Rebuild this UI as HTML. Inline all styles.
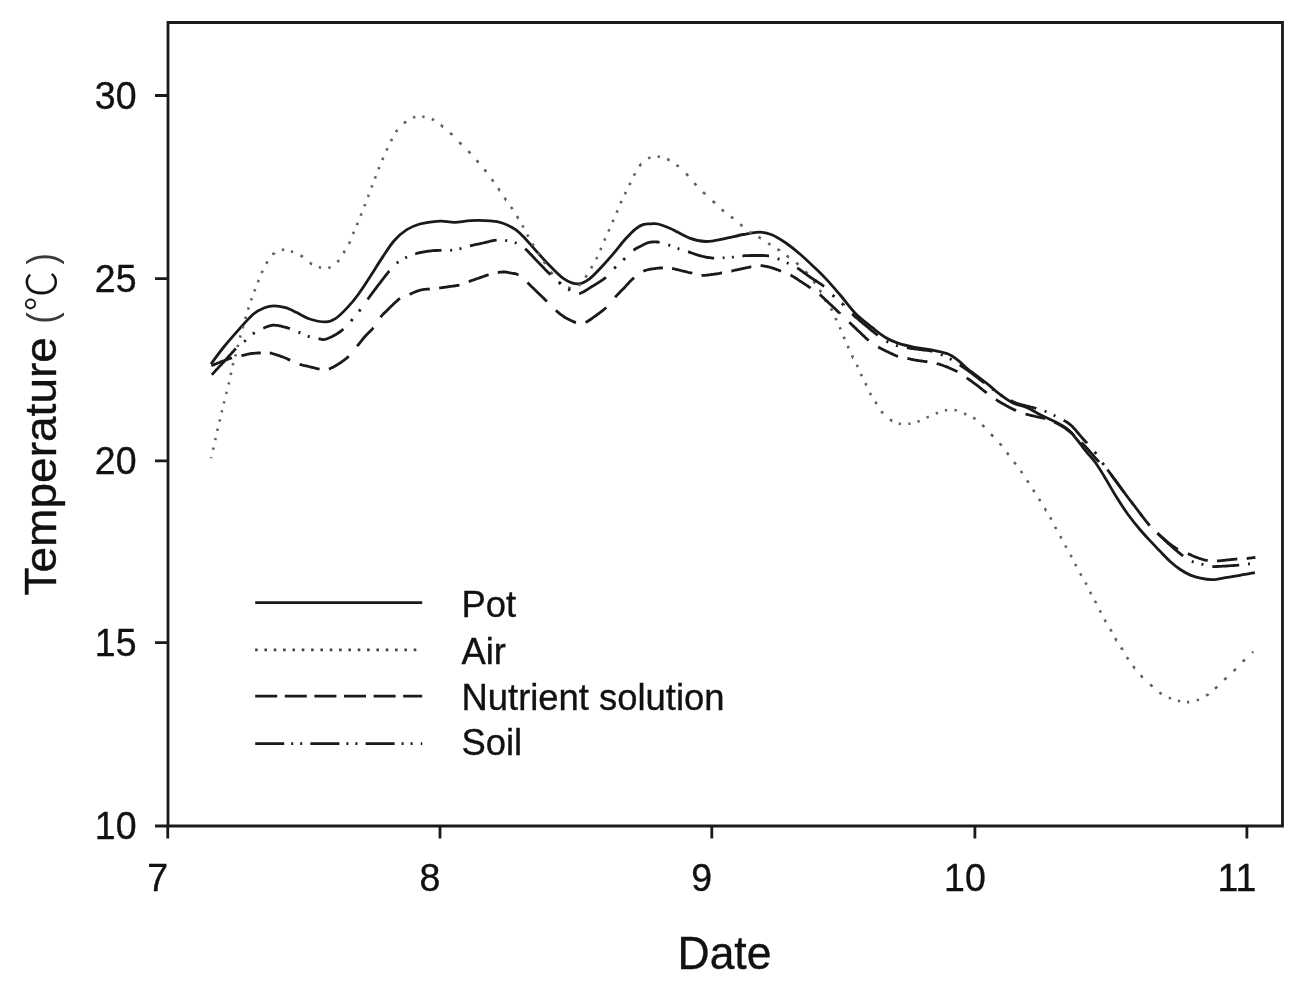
<!DOCTYPE html>
<html><head><meta charset="utf-8"><title>Temperature chart</title>
<style>
html,body{margin:0;padding:0;background:#fff;}
body{width:1312px;height:992px;overflow:hidden;}
svg{display:block;filter:blur(0.35px);}
text{font-family:"Liberation Sans", Arial, sans-serif;fill:#111;stroke:#111;stroke-width:0.35px;}
.tk{font-size:37.5px;}
.lg{font-size:36.4px;}
.ti{font-size:44.5px;}
.pj{font-family:"Liberation Sans",sans-serif;font-size:41.3px;stroke:none;fill:#3a3a3a;}
.cj{font-family:"Liberation Sans","Noto Sans CJK SC",sans-serif;font-weight:300;font-size:40.5px;stroke-width:0.2px;}
</style></head>
<body>
<svg width="1312" height="992" viewBox="0 0 1312 992">
<rect width="1312" height="992" fill="#fff"/>
<path d="M168,826 L168,22.5 L1282.5,22.5 L1282.5,826 Z" fill="none" stroke="#1a1a1a" stroke-width="2.8" stroke-linejoin="miter"/>
<path d="M167.75,826V838.5M440,826V838.5M711.8,826V838.5M974.9,826V838.5M1246.9,826V838.5M155,826H168M155,642.7H168M155,460.8H168M155,278.6H168M155,95.5H168" stroke="#1a1a1a" stroke-width="2.8"/>
<text transform="translate(157.8,890.6) scale(1,1.04)" class="tk" text-anchor="middle">7</text>
<text transform="translate(430.0,890.6) scale(1,1.04)" class="tk" text-anchor="middle">8</text>
<text transform="translate(701.8,890.6) scale(1,1.04)" class="tk" text-anchor="middle">9</text>
<text transform="translate(964.9,890.6) scale(1,1.04)" class="tk" text-anchor="middle">10</text>
<text transform="translate(1236.9,890.6) scale(1,1.04)" class="tk" text-anchor="middle">11</text>
<text transform="translate(136.5,839.4) scale(1,1.04)" class="tk" text-anchor="end">10</text>
<text transform="translate(136.5,656.1) scale(1,1.04)" class="tk" text-anchor="end">15</text>
<text transform="translate(136.5,474.2) scale(1,1.04)" class="tk" text-anchor="end">20</text>
<text transform="translate(136.5,292.0) scale(1,1.04)" class="tk" text-anchor="end">25</text>
<text transform="translate(136.5,108.9) scale(1,1.04)" class="tk" text-anchor="end">30</text>
<text transform="translate(677.5,968.9) scale(1,1.02)" class="ti">Date</text>
<text transform="translate(55.8,595.5) scale(1,1.035) rotate(-90)" class="ti">Temperature</text>
<text transform="translate(56.099999999999994,323.7) scale(1,0.83) rotate(-90)" class="ti pj">(</text>
<text transform="translate(55.8,311.6) scale(1,1.0) rotate(-90)" class="ti cj">℃</text>
<text transform="translate(56.099999999999994,264.5) scale(1,0.83) rotate(-90)" class="ti pj">)</text>
<path d="M211.0,364.0 C213.2,361.1 219.3,352.5 224.2,346.5 C229.1,340.5 235.5,333.3 240.3,327.9 C245.1,322.5 249.2,317.6 253.2,314.2 C257.2,310.8 261.0,309.1 264.5,307.7 C268.0,306.3 270.7,305.8 274.2,305.8 C277.7,305.8 281.7,306.6 285.5,307.7 C289.3,308.8 292.8,310.7 296.8,312.6 C300.8,314.5 304.8,317.4 309.7,319.0 C314.6,320.6 321.8,322.0 326.1,321.9 C330.5,321.8 332.3,320.7 335.8,318.4 C339.3,316.1 343.3,311.9 347.1,307.9 C350.9,303.9 354.4,299.7 358.4,294.2 C362.4,288.7 367.3,281.0 371.3,274.8 C375.3,268.6 378.8,262.7 382.6,257.1 C386.4,251.5 389.9,245.6 393.9,241.0 C397.9,236.4 402.5,232.5 406.8,229.7 C411.1,226.9 415.5,225.3 419.7,224.0 C423.9,222.7 428.4,222.3 432.1,221.8 C435.8,221.3 438.0,221.1 441.8,221.2 C445.6,221.3 450.3,222.4 455.1,222.3 C459.9,222.2 465.0,220.8 470.8,220.6 C476.6,220.3 484.9,220.4 490.2,220.8 C495.4,221.2 498.1,221.5 502.3,223.0 C506.5,224.5 511.8,227.0 515.6,229.6 C519.4,232.2 522.1,235.4 525.3,238.7 C528.5,242.0 531.4,245.6 535.0,249.6 C538.6,253.6 542.3,258.1 547.1,262.9 C551.9,267.7 558.5,275.1 563.6,278.6 C568.8,282.1 573.6,283.9 578.0,283.9 C582.4,283.9 585.6,281.7 589.8,278.6 C593.9,275.5 599.0,269.6 602.9,265.5 C606.8,261.4 609.7,258.1 613.4,253.7 C617.1,249.3 621.5,243.5 625.2,239.3 C628.9,235.2 632.6,231.3 635.7,228.8 C638.8,226.3 641.1,225.1 643.6,224.3 C646.1,223.5 648.6,223.9 651.0,223.8 C653.4,223.8 654.8,223.2 658.0,224.0 C661.2,224.8 665.1,226.2 670.4,228.5 C675.7,230.8 683.7,235.9 689.6,238.1 C695.5,240.3 700.3,241.4 706.0,241.5 C711.7,241.6 717.7,240.0 723.9,238.8 C730.1,237.6 737.4,235.6 743.2,234.5 C749.1,233.4 754.3,232.1 759.0,232.1 C763.7,232.1 766.7,232.7 771.2,234.5 C775.7,236.3 781.1,239.7 785.9,243.0 C790.7,246.3 795.3,250.0 800.2,254.2 C805.1,258.4 811.0,264.1 815.4,268.3 C819.8,272.5 822.3,274.9 826.5,279.4 C830.7,283.9 835.7,289.8 840.6,295.5 C845.5,301.2 850.4,308.3 855.7,313.7 C861.0,319.1 867.4,323.7 872.4,327.7 C877.4,331.7 881.1,334.9 885.5,337.5 C889.9,340.1 893.8,341.8 898.6,343.4 C903.4,345.0 908.9,346.2 914.4,347.3 C919.9,348.4 925.8,348.8 931.4,349.9 C937.0,351.0 943.3,352.1 947.7,353.8 C952.1,355.5 954.6,357.8 957.8,360.2 C961.0,362.6 963.8,365.9 966.9,368.4 C970.0,370.9 972.3,372.4 976.1,375.3 C979.9,378.2 986.0,382.7 989.8,385.8 C993.6,388.9 995.2,390.9 999.1,393.7 C1003.0,396.5 1008.3,400.6 1012.9,402.9 C1017.5,405.2 1022.0,405.4 1026.6,407.4 C1031.2,409.4 1035.7,412.5 1040.3,414.8 C1044.9,417.1 1049.4,418.8 1054.0,421.2 C1058.6,423.6 1064.0,426.3 1067.8,429.4 C1071.6,432.4 1073.9,435.8 1076.9,439.5 C1080.0,443.2 1083.0,447.6 1086.1,451.4 C1089.1,455.2 1092.2,458.1 1095.2,462.3 C1098.2,466.5 1100.7,470.6 1104.2,476.3 C1107.7,482.1 1112.3,490.4 1116.3,496.8 C1120.3,503.2 1124.4,509.5 1128.4,515.0 C1132.4,520.5 1136.3,525.3 1140.3,530.0 C1144.3,534.7 1149.3,539.8 1152.6,543.4 C1155.9,547.0 1157.3,548.4 1160.2,551.4 C1163.1,554.4 1166.9,558.5 1170.2,561.5 C1173.5,564.5 1176.9,567.2 1180.3,569.5 C1183.7,571.8 1187.0,573.7 1190.4,575.1 C1193.8,576.5 1196.8,577.4 1200.5,578.1 C1204.2,578.9 1208.4,579.7 1212.6,579.6 C1216.8,579.5 1221.0,578.4 1225.7,577.6 C1230.4,576.9 1235.9,575.9 1240.8,575.1 C1245.7,574.3 1252.6,573.0 1254.9,572.6" fill="none" stroke="#1a1a1a" stroke-width="2.8" stroke-linejoin="round"/>
<path d="M211.1 458.2L211.4 457.1M213.0 449.8L213.3 448.4L213.5 447.5M215.1 440.2L215.5 438.8L215.7 438.0M217.3 430.9L217.5 429.7L217.8 428.6M219.4 421.5L219.8 420.1L220.0 419.3M221.6 412.4L221.9 411.1L222.1 410.3M223.7 403.4L224.1 402.0L224.3 401.2M226.1 393.9L226.5 392.5L226.7 391.7M228.5 384.4L228.9 383.0L229.1 382.2M230.7 374.9L231.0 373.5L231.2 372.6M232.7 365.3L233.1 364.0L233.3 363.1M235.2 356.4L235.6 355.1L235.8 354.2M237.6 347.0L237.9 345.8L238.1 344.8M240.0 337.6L240.4 336.1L240.6 335.4M242.6 328.3L243.0 327.0L243.2 326.0M245.3 318.9L245.7 317.4L245.9 316.7M248.1 309.6L248.5 308.1L248.7 307.4M251.1 300.4L251.5 299.1L251.8 298.3M254.4 291.4L254.9 290.0L255.2 289.2M257.9 282.2L258.4 280.9L258.8 280.0M261.6 273.0L262.2 271.7L262.6 270.7M266.2 263.7L266.9 262.6L267.6 261.5L267.6 261.5M272.4 254.6L273.4 253.7L274.4 253.0L274.4 252.9M281.8 249.9L283.1 249.7L284.2 249.6M290.9 251.2L292.1 251.7L293.1 252.0M300.5 255.4L301.6 256.1L302.7 256.8L302.8 256.9M309.8 262.6L310.8 263.3L311.9 264.0L312.0 264.0M318.8 267.3L320.2 267.6L321.1 267.8M328.3 267.9L329.6 267.5L330.6 267.1M337.3 262.0L338.2 261.1L339.0 260.2L339.1 260.1M343.5 253.0L344.2 251.9L344.9 250.8L344.9 250.8M348.9 243.8L349.5 242.6L350.0 241.5L350.0 241.4M353.0 234.0L353.5 232.8L354.0 231.7M356.9 225.1L357.4 223.8L357.8 222.9M360.6 215.7L361.1 214.6L361.5 213.5M364.4 206.3L364.8 205.2L365.2 204.1M367.9 196.9L368.4 195.8L368.8 194.7M371.5 187.5L371.9 186.4L372.3 185.3M374.9 178.4L375.5 177.0L375.8 176.2M378.5 169.3L379.0 167.9L379.4 167.1M382.3 159.9L382.9 158.5L383.3 157.6M386.5 150.5L387.0 149.4L387.5 148.3M391.0 141.2L391.6 139.9L392.1 139.0M395.9 132.1L396.6 131.1L397.3 130.0L397.4 129.9M403.9 123.2L405.0 122.4L406.0 121.6L406.1 121.5M413.0 117.6L414.2 117.2L415.3 116.9M422.3 116.6L423.6 116.7L424.6 116.9M431.8 119.0L433.1 119.6L434.1 120.1M440.8 125.0L441.8 125.8L442.9 126.7L443.0 126.7M450.1 132.9L451.0 133.8L452.0 134.6L452.3 135.0M459.3 142.2L460.2 143.1L461.2 144.1L461.5 144.4M468.3 151.1L469.2 152.0L470.0 153.0L470.3 153.3M476.5 160.3L477.4 161.2L478.2 162.2L478.5 162.5M484.4 169.5L485.2 170.4L485.9 171.4L486.2 171.8M491.7 179.3L492.5 180.3L493.3 181.4L493.4 181.6M498.2 188.3L498.9 189.4L499.6 190.5L499.7 190.5M504.5 197.7L505.3 198.8L506.0 199.9L506.1 199.9M510.9 206.9L511.7 208.0L512.4 209.1L512.4 209.1M516.9 216.1L517.6 217.2L518.2 218.3L518.3 218.3M522.3 225.3L522.9 226.4L523.5 227.5M527.2 234.5L527.8 235.6L528.4 236.7M532.5 243.7L533.1 244.8L533.8 245.8M538.0 252.7L538.7 253.8L539.4 254.8M543.8 261.5L544.5 262.6L545.3 263.8L545.3 263.9M550.7 271.8L551.5 272.8L552.3 273.8L552.6 274.2M558.8 281.6L559.8 282.5L560.8 283.3L560.9 283.4M568.1 287.6L569.3 287.9L570.6 288.1L570.7 288.1M578.4 285.8L579.4 284.9L580.3 283.9M585.4 277.4L586.2 276.3L586.9 275.3M591.1 268.3L591.7 267.2L592.3 266.1L592.3 266.1M596.1 259.2L596.7 258.1L597.2 257.0M600.3 250.1L600.9 248.8L601.3 247.9M604.3 240.6L604.8 239.5L605.3 238.4M608.4 231.5L609.0 230.2L609.4 229.3M612.5 222.0L613.0 220.9L613.5 219.8L613.5 219.8M616.6 212.6L617.1 211.5L617.6 210.4M620.5 203.2L621.0 202.1L621.5 201.0M624.9 194.2L625.4 193.1L625.9 192.0M629.4 185.0L629.9 183.9L630.4 182.8M633.8 175.7L634.4 174.6L635.0 173.5L635.0 173.4M639.3 166.1L640.2 165.1L641.1 164.1L641.2 164.1M648.1 158.4L649.2 157.9L650.5 157.4M657.6 156.6L658.9 156.7L659.9 156.8M667.2 159.0L668.3 159.5L669.4 160.1L669.5 160.1M676.5 164.9L677.5 165.7L678.5 166.5L678.7 166.7M686.0 173.6L687.0 174.5L687.8 175.5L688.1 175.8M694.3 183.1L695.2 184.0L696.0 185.0L696.3 185.3M703.0 192.1L703.9 193.0L704.9 193.8L705.3 194.2M712.7 201.0L713.7 202.0L714.7 202.8L715.0 203.1M721.7 209.4L722.6 210.3L723.7 211.2L723.9 211.3M731.0 216.6L731.9 217.4L733.0 218.2L733.2 218.4M740.2 224.3L741.1 225.1L742.2 226.0L742.4 226.1M749.3 231.9L750.3 232.6L751.4 233.3L751.5 233.4M758.5 237.0L759.6 237.6L760.7 238.3L760.8 238.3M768.2 243.2L769.2 243.9L770.3 244.6L770.5 244.7M777.4 249.1L778.5 249.8L779.6 250.5L779.6 250.6M786.6 255.6L787.7 256.4L788.8 257.2L788.9 257.2M796.2 262.7L797.1 263.5L798.2 264.4L798.5 264.6M805.4 271.3L806.3 272.3L807.2 273.3L807.4 273.6M813.5 281.2L814.3 282.2L815.1 283.3L815.2 283.4M819.7 289.9L820.4 291.0L821.0 292.1L821.1 292.1M824.9 299.5L825.5 300.6L826.2 301.7L826.2 301.7M830.8 308.5L831.5 309.6L832.1 310.7L832.1 310.7M835.5 318.0L836.0 319.2L836.5 320.3M839.7 327.2L840.2 328.3L840.7 329.4M843.7 336.7L844.2 337.9L844.7 339.0M847.7 346.0L848.2 347.1L848.7 348.2M852.0 355.4L852.5 356.5L853.0 357.6L853.1 357.6M856.7 364.8L857.3 365.9L857.8 367.0M860.8 374.0L861.3 375.1L861.8 376.2M865.4 383.1L865.9 384.2L866.4 385.3L866.5 385.4M869.9 392.8L870.5 394.0L871.1 395.1L871.1 395.1M875.3 401.8L876.0 402.9L876.7 404.0L876.7 404.0M881.2 411.2L882.0 412.2L882.9 413.2L883.0 413.3M889.9 419.5L891.0 420.2L892.0 420.9L892.1 420.9M898.7 423.7L900.0 423.9L900.9 424.1M908.3 423.8L909.6 423.7L910.5 423.5M917.5 421.8L918.8 421.3L919.7 421.0M926.6 417.6L927.7 417.1L928.8 416.6M935.8 413.5L936.9 413.1L938.0 412.7M944.9 410.4L946.2 410.2L947.1 410.0M954.5 410.0L955.8 410.2L956.8 410.5M964.1 413.5L965.2 414.0L966.3 414.5M973.2 417.7L974.2 418.3L975.3 419.0L975.4 419.1M982.3 424.9L983.2 425.8L984.0 426.6L984.4 427.0M991.0 434.3L992.0 435.2L992.8 436.2L993.1 436.5M999.6 443.4L1000.5 444.3L1001.4 445.4L1001.5 445.6M1006.9 452.6L1007.7 453.5L1008.5 454.6L1008.7 454.8M1014.1 462.1L1014.9 463.1L1015.7 464.2L1015.8 464.3M1020.7 470.9L1021.5 472.0L1022.3 473.1L1022.3 473.1M1027.1 480.4L1027.9 481.6L1028.6 482.7L1028.6 482.7M1033.1 489.8L1033.8 490.9L1034.5 492.0L1034.5 492.0M1039.0 498.9L1039.7 500.0L1040.4 501.1L1040.4 501.1M1044.7 508.3L1045.4 509.4L1046.0 510.5L1046.1 510.5M1050.2 517.4L1050.8 518.5L1051.4 519.6L1051.4 519.6M1055.0 526.8L1055.6 527.9L1056.2 529.0L1056.2 529.0M1060.2 536.1L1060.8 537.2L1061.4 538.3L1061.4 538.3M1065.3 545.5L1065.9 546.6L1066.5 547.7L1066.5 547.7M1070.5 554.9L1071.1 556.0L1071.7 557.1L1071.7 557.1M1075.1 564.0L1075.7 565.1L1076.3 566.2L1076.3 566.2M1080.2 573.4L1080.8 574.5L1081.4 575.6L1081.4 575.6M1085.4 582.5L1086.0 583.6L1086.6 584.7L1086.6 584.7M1090.0 591.9L1090.6 593.0L1091.2 594.1M1094.8 600.8L1095.4 601.9L1096.0 603.0L1096.0 603.1M1099.8 610.3L1100.4 611.5L1101.0 612.6L1101.0 612.6M1104.6 619.6L1105.2 620.7L1105.8 621.8L1105.9 621.9M1110.3 629.2L1111.0 630.4L1111.6 631.5M1115.2 638.2L1115.8 639.3L1116.4 640.4L1116.5 640.4M1121.1 647.5L1121.8 648.6L1122.5 649.7L1122.5 649.8M1126.8 657.2L1127.5 658.3L1128.2 659.4L1128.2 659.4M1133.1 666.1L1133.9 667.1L1134.7 668.2L1134.8 668.2M1140.7 675.3L1141.6 676.2L1142.4 677.2L1142.8 677.5M1150.2 684.4L1151.2 685.4L1152.2 686.2L1152.5 686.5M1159.4 692.5L1160.4 693.2L1161.5 693.9L1161.7 694.0M1168.8 697.6L1170.0 698.1L1171.1 698.5M1177.9 700.8L1179.2 701.1L1180.1 701.3M1187.0 702.1L1188.3 702.1L1189.3 702.0M1196.7 700.4L1198.0 699.9L1199.0 699.5M1206.1 695.7L1207.2 695.0L1208.3 694.3L1208.3 694.2M1215.0 688.7L1216.0 687.8L1216.9 687.0L1217.2 686.7M1224.3 679.9L1225.2 678.9L1226.2 678.1L1226.5 677.7M1233.7 671.1L1234.6 670.2L1235.6 669.2L1235.9 668.9M1242.7 661.7L1243.6 660.8L1244.6 659.8L1244.9 659.5M1252.2 652.9L1253.0 652.0L1253.3 651.8" fill="none" stroke="#606060" stroke-width="2.6"/>
<path d="M211.4 365.6L212.6 365.2L214.0 364.6L215.2 364.1L216.5 363.6L217.9 363.0L219.3 362.5L220.8 361.9L222.3 361.3L223.8 360.7L225.2 360.2L226.6 359.7L227.8 359.2L229.0 358.8L230.3 358.3L231.5 358.0L231.9 357.8M241.5 355.7L242.8 355.4L244.1 355.1L245.3 354.8L246.6 354.5L247.9 354.2L249.2 354.0L250.4 353.7L251.6 353.5L252.9 353.4L254.1 353.3L255.4 353.2L256.6 353.1L257.8 353.0L259.1 353.0L260.4 352.9L260.8 352.9M269.8 353.0L271.0 353.2L272.2 353.5L273.4 353.9L274.7 354.2L276.0 354.7L277.3 355.1L278.6 355.5L279.8 355.9L281.0 356.4L282.3 356.8L283.5 357.3L284.7 357.8L286.0 358.3L287.2 358.8L288.3 359.4L289.5 359.9L290.2 360.2M299.6 364.3L300.9 364.7L302.1 365.0L303.4 365.4L304.7 365.6L306.0 365.9L307.3 366.2L308.6 366.5L309.8 366.8L311.0 367.1L312.2 367.4L313.4 367.7L314.6 368.0L315.8 368.3L317.1 368.7L318.4 368.9L319.6 369.1M328.9 369.1L330.1 368.6L331.2 368.1L332.4 367.5L333.6 366.9L334.8 366.2L336.0 365.5L337.2 364.8L338.4 364.1L339.5 363.3L340.5 362.7L341.6 362.0L342.6 361.2L343.6 360.5L344.5 359.8L345.5 359.0L346.4 358.3L347.5 357.4L348.5 356.4L348.7 356.2M357.1 346.2L358.0 345.1L358.8 344.2L359.6 343.1L360.4 342.1L361.2 341.1L362.0 340.1L362.8 339.0L363.7 338.0L364.6 337.0L365.5 336.0L366.4 335.0L367.4 334.0L368.4 332.9L369.4 331.9L370.4 330.9L371.4 329.9L372.4 328.9L373.3 327.9L373.5 327.7M380.6 317.2L381.4 316.1L382.3 315.1L383.3 314.1L384.3 313.1L385.2 312.2L386.0 311.4L386.9 310.5L387.8 309.7L388.6 308.8L389.7 307.8L390.7 306.8L391.7 305.8L392.6 305.0L393.4 304.1L394.3 303.3L395.2 302.4L396.3 301.5L397.3 300.6L398.3 299.7L399.3 298.9L400.0 298.4M409.6 294.3L410.7 293.9L412.0 293.3L413.3 292.8L414.4 292.3L415.5 291.8L416.6 291.4L417.9 290.9L419.1 290.5L420.3 290.1L421.5 289.8L422.8 289.6L424.2 289.4L425.4 289.3L426.7 289.2L428.0 289.1L429.2 289.0L429.8 288.9M439.2 288.1L440.4 287.9L441.8 287.7L443.0 287.5L444.2 287.3L445.4 287.2L446.6 287.0L447.8 286.8L449.0 286.6L450.2 286.4L451.4 286.3L452.6 286.2L453.9 286.0L455.1 285.9L456.3 285.7L457.5 285.5L458.8 285.2L459.5 285.0M468.8 281.6L470.1 281.1L471.3 280.7L472.5 280.2L473.8 279.8L475.0 279.4L476.3 278.9L477.6 278.5L478.8 278.1L480.1 277.6L481.3 277.2L482.6 276.7L483.9 276.3L485.2 275.8L486.5 275.4L487.7 275.0L488.6 274.7M497.8 272.5L499.0 272.4L500.3 272.2L501.5 272.1L502.7 272.0L504.0 272.0L505.3 272.0L506.5 272.1L507.7 272.3L508.9 272.6L510.2 272.8L511.5 273.1L512.7 273.3L513.9 273.5L515.2 273.7L516.3 274.0L517.5 274.5L518.5 274.9M527.5 282.6L528.4 283.5L529.4 284.4L530.4 285.4L531.4 286.4L532.3 287.3L533.2 288.1L534.1 289.0L535.0 289.8L535.8 290.7L536.7 291.5L537.6 292.4L538.4 293.2L539.3 294.1L540.2 294.9L541.1 295.8L542.0 296.6L542.9 297.5L543.8 298.3L544.6 299.2L545.6 300.2L546.6 301.1L546.9 301.4M555.9 310.4L556.9 311.3L557.9 312.1L558.9 313.0L560.0 313.8L561.0 314.6L562.1 315.4L563.2 316.2L564.3 317.0L565.4 317.7L566.6 318.3L567.8 319.0L569.0 319.6L570.3 320.3L571.6 320.8L572.8 321.4L574.1 321.9L575.3 322.4L576.0 322.6M585.6 322.4L586.8 321.8L587.8 321.2L588.9 320.5L590.0 319.8L591.2 319.0L592.3 318.2L593.4 317.4L594.6 316.5L595.6 315.8L596.7 315.0L597.8 314.2L598.8 313.5L599.9 312.7L600.9 311.9L601.9 311.1L602.9 310.3L603.9 309.5L604.9 308.7L605.9 307.8L606.2 307.5M615.1 297.3L615.9 296.4L616.8 295.4L617.7 294.5L618.7 293.5L619.6 292.5L620.5 291.6L621.5 290.6L622.4 289.6L623.4 288.7L624.3 287.7L625.3 286.7L626.2 285.6L627.2 284.6L628.0 283.7L629.0 282.6L630.0 281.6L631.0 280.6L631.9 279.6L632.9 278.7L633.9 277.9L634.1 277.7M643.3 271.2L644.5 270.7L645.7 270.3L646.9 270.0L648.1 269.7L649.3 269.5L650.4 269.2L651.6 269.0L652.8 268.8L654.0 268.6L655.2 268.5L656.5 268.3L657.7 268.2L658.9 268.1L660.1 268.0L661.4 268.0L662.7 267.9L662.9 267.9M672.1 268.5L673.3 268.7L674.6 269.0L675.8 269.3L677.0 269.5L678.3 269.9L679.5 270.2L680.7 270.5L682.0 270.8L683.3 271.1L684.6 271.4L685.8 271.7L687.0 272.0L688.1 272.3L689.5 272.6L690.8 272.9L692.0 273.2L692.2 273.3M701.5 275.4L702.7 275.4L704.0 275.4L705.3 275.3L706.6 275.1L707.9 275.0L709.2 274.8L710.5 274.7L711.8 274.5L713.1 274.4L714.3 274.2L715.6 274.0L716.8 273.8L718.0 273.6L719.3 273.4L720.4 273.2L721.8 273.0L722.0 273.0M731.4 271.0L732.6 270.8L733.9 270.5L735.2 270.2L736.4 270.0L737.6 269.7L738.8 269.5L740.0 269.2L741.2 269.0L742.3 268.7L743.5 268.4L744.7 268.2L745.9 267.9L747.1 267.6L748.3 267.4L749.6 267.1L750.9 266.8L751.3 266.8M760.6 265.6L761.9 265.7L763.2 265.9L764.5 266.1L765.8 266.3L767.1 266.6L768.3 266.9L769.5 267.2L770.7 267.5L772.0 267.9L773.3 268.3L774.6 268.7L775.7 269.1L776.9 269.6L778.2 270.0L779.4 270.5L780.7 271.0L781.1 271.1M790.5 275.0L791.7 275.7L792.8 276.3L794.0 277.1L795.1 277.8L796.3 278.5L797.3 279.2L798.3 279.9L799.3 280.6L800.3 281.2L801.4 281.9L802.5 282.6L803.6 283.4L804.8 284.1L805.9 284.9L807.0 285.6L808.1 286.3L809.2 287.1L810.2 287.7L810.6 288.0M819.8 294.6L820.7 295.4L821.7 296.3L822.8 297.3L823.7 298.1L824.6 299.0L825.5 299.8L826.5 300.7L827.4 301.5L828.3 302.4L829.1 303.2L830.2 304.2L831.2 305.1L832.2 306.0L833.2 307.0L834.1 307.9L835.1 308.8L836.1 309.7L837.0 310.7L838.0 311.6L838.9 312.5L839.9 313.3L839.9 313.4M849.2 322.2L850.1 323.0L851.1 324.0L852.1 325.0L853.1 325.9L854.2 326.9L855.2 327.9L856.3 328.9L857.3 329.9L858.3 330.9L859.3 331.8L860.4 332.8L861.4 333.8L862.4 334.8L863.5 335.7L864.5 336.7L865.5 337.7L866.5 338.6L867.5 339.5L868.5 340.3L868.7 340.5M878.1 346.9L879.2 347.5L880.3 348.2L881.5 348.8L882.7 349.4L884.0 350.1L885.2 350.7L886.4 351.3L887.7 351.8L888.9 352.4L890.1 353.0L891.3 353.6L892.5 354.1L893.8 354.7L895.0 355.2L896.2 355.7L897.3 356.2L898.0 356.4M907.4 358.5L908.7 358.7L910.0 359.0L911.3 359.3L912.6 359.5L913.9 359.8L915.2 360.0L916.6 360.3L917.8 360.5L919.1 360.7L920.3 360.8L921.6 361.0L922.8 361.2L924.0 361.3L925.2 361.5L926.6 361.6L927.4 361.8M936.7 363.5L937.9 363.9L939.1 364.2L940.4 364.6L941.7 365.0L943.0 365.5L944.3 366.0L945.5 366.4L946.8 366.9L948.1 367.4L949.4 368.0L950.5 368.5L951.6 369.0L952.7 369.5L953.8 370.0L954.9 370.5L956.1 371.1L957.3 371.7L957.4 371.8M966.7 377.9L967.7 378.6L968.8 379.3L969.8 380.0L970.8 380.8L971.9 381.5L972.9 382.3L974.0 383.1L975.0 383.8L976.1 384.6L977.1 385.4L978.1 386.2L979.2 387.0L980.2 387.8L981.3 388.7L982.3 389.5L983.3 390.3L984.4 391.1L985.4 391.9L986.3 392.6L986.6 392.9M995.9 399.6L997.0 400.2L998.0 400.9L999.1 401.5L1000.1 402.2L1001.2 402.8L1002.3 403.4L1003.4 404.0L1004.4 404.6L1005.5 405.2L1006.7 405.9L1007.9 406.5L1009.1 407.2L1010.3 407.8L1011.5 408.4L1012.7 409.0L1013.8 409.6L1015.0 410.1L1016.1 410.6M1025.6 414.0L1026.9 414.4L1028.1 414.7L1029.4 415.0L1030.7 415.3L1031.9 415.6L1033.2 415.9L1034.5 416.1L1035.8 416.5L1037.1 416.8L1038.4 417.0L1039.6 417.3L1040.9 417.6L1042.2 417.9L1043.5 418.2L1044.9 418.6L1045.2 418.7M1054.2 422.1L1055.5 422.7L1056.6 423.2L1057.7 423.7L1058.7 424.3L1060.0 425.0L1061.2 425.7L1062.5 426.5L1063.7 427.2L1064.7 427.9L1065.7 428.6L1066.6 429.3L1067.6 430.0L1068.6 430.8L1069.6 431.6L1070.6 432.4L1071.6 433.2L1072.6 434.0L1073.1 434.4M1081.5 442.4L1082.5 443.4L1083.4 444.4L1084.4 445.4L1085.3 446.4L1086.3 447.5L1087.2 448.6L1088.2 449.6L1089.1 450.7L1090.1 451.8L1091.0 452.9L1091.9 453.9L1092.8 455.0L1093.6 456.0L1094.5 456.9L1095.3 457.9L1096.2 458.8L1097.0 459.7L1097.8 460.6L1098.7 461.5L1099.1 462.0M1107.4 469.7L1108.2 470.7L1109.2 472.0L1109.9 473.0L1110.8 474.1L1111.7 475.3L1112.6 476.6L1113.6 478.0L1114.7 479.4L1115.4 480.4L1116.1 481.4L1116.8 482.4L1117.6 483.4L1118.3 484.4L1119.1 485.4L1119.8 486.5L1120.6 487.5L1121.4 488.6L1122.1 489.6L1122.9 490.6L1123.7 491.7L1124.2 492.5M1132.1 502.9L1133.1 504.2L1133.8 505.2L1134.6 506.2L1135.4 507.2L1136.1 508.2L1136.9 509.2L1137.7 510.2L1138.4 511.2L1139.2 512.2L1139.9 513.2L1140.7 514.2L1141.8 515.6L1142.8 517.0L1143.9 518.3L1144.9 519.6L1145.8 520.8L1146.7 521.9L1147.6 523.0L1148.4 524.0L1149.1 524.8M1157.4 533.1L1158.5 534.1L1159.5 535.0L1160.5 535.9L1161.6 536.9L1162.7 537.9L1163.8 538.9L1165.0 539.8L1166.1 540.8L1167.2 541.7L1168.2 542.6L1169.2 543.4L1170.2 544.1L1171.3 545.0L1172.4 545.8L1173.4 546.5L1174.5 547.2L1175.5 547.9L1176.6 548.6L1177.7 549.2L1177.9 549.3M1187.8 553.6L1189.0 554.1L1190.3 554.6L1191.4 555.2L1192.5 555.7L1193.7 556.2L1194.9 556.7L1196.0 557.1L1197.2 557.6L1198.3 558.0L1199.5 558.4L1200.7 558.8L1201.8 559.2L1203.0 559.5L1204.2 559.9L1205.4 560.2L1206.7 560.4L1207.7 560.6M1217.0 561.0L1218.3 560.9L1219.5 560.8L1220.7 560.7L1221.9 560.6L1223.2 560.4L1224.4 560.3L1225.6 560.1L1226.8 560.0L1228.0 559.9L1229.2 559.8L1230.5 559.6L1231.7 559.5L1232.9 559.4L1234.2 559.3L1235.6 559.1L1236.9 559.0L1237.3 559.0M1246.7 558.5L1247.9 558.3L1249.1 558.2L1250.4 558.1L1251.6 557.9L1252.9 557.7L1254.2 557.6L1255.4 557.4" fill="none" stroke="#1a1a1a" stroke-width="2.8" stroke-linejoin="round"/>
<path d="M211.8 374.7L212.8 373.7L213.8 372.6L214.7 371.6L215.6 370.6L216.6 369.5L217.7 368.4L218.7 367.3L219.8 366.1L220.9 365.0L221.9 363.8L223.0 362.7L224.0 361.6L224.9 360.6L225.8 359.6L226.8 358.5L227.8 357.4L228.8 356.3L229.8 355.2L230.8 354.1L231.8 353.0L232.7 351.9L233.7 350.9L234.6 349.8L235.5 348.9L235.9 348.5M244.1 341.6L245.1 340.9L245.9 340.3M252.9 334.0L254.0 333.2L254.7 332.7M263.3 328.2L264.4 327.8L265.6 327.3L266.8 326.8L268.1 326.3L269.4 325.9L270.6 325.6L271.8 325.4L273.1 325.2L274.4 325.2L275.6 325.3L276.9 325.4L278.3 325.6L279.7 325.9L281.2 326.2L282.6 326.6L284.1 326.9L285.5 327.3L286.9 327.7L288.2 328.1L289.4 328.4L289.9 328.6M298.5 332.1L299.7 332.6L300.4 332.9M307.8 336.1L309.1 336.6L309.7 336.8M318.5 338.6L319.6 338.9L320.8 339.2L322.0 339.5L323.3 339.6L324.6 339.4L325.9 339.1L327.0 338.7L328.2 338.2L329.5 337.7L330.6 337.3L331.7 336.7L332.8 336.2L333.9 335.6L335.0 335.0L336.1 334.4L337.1 333.7L338.2 333.0L339.3 332.2L340.4 331.5L341.5 330.7L342.5 329.8L343.4 329.1M351.0 321.1L351.9 320.0L352.6 319.1M359.0 311.4L359.8 310.4L360.5 309.4M367.6 299.4L368.4 298.4L369.2 297.2L370.0 296.1L370.9 294.9L371.7 293.9L372.4 292.9L373.2 291.9L373.9 290.9L374.7 289.9L375.4 288.9L376.2 287.9L376.9 286.9L377.8 285.7L378.7 284.6L379.6 283.4L380.5 282.3L381.3 281.1L382.2 280.0L383.1 278.8L384.0 277.7L384.8 276.6L385.6 275.6L386.5 274.5L387.3 273.5L388.0 272.6L388.9 271.5L389.3 271.1M396.7 263.2L397.7 262.4L398.4 261.9M405.3 257.9L406.4 257.3L407.0 257.0M415.2 253.8L416.4 253.5L417.6 253.1L418.9 252.8L420.2 252.5L421.6 252.3L423.0 252.0L424.3 251.8L425.7 251.5L427.1 251.3L428.5 251.1L429.8 251.0L431.3 250.8L432.5 250.7L433.7 250.6L434.9 250.5L436.3 250.5L437.7 250.4L439.1 250.3L440.4 250.3L441.5 250.2M450.2 250.3L451.5 250.2L452.1 250.1M459.5 248.8L460.8 248.5L461.4 248.4M470.0 245.9L471.2 245.6L472.4 245.3L473.7 245.0L475.1 244.7L476.5 244.4L477.9 244.1L479.1 243.9L480.2 243.6L481.6 243.3L483.0 243.0L484.4 242.7L485.6 242.4L486.8 242.1L488.0 241.8L489.2 241.5L490.4 241.2L491.6 240.9L493.0 240.6L494.3 240.3L495.6 240.1L496.6 239.9M505.3 240.4L506.6 240.6L507.2 240.7M514.8 242.5L515.9 243.0L516.6 243.3M525.1 248.7L526.1 249.6L527.1 250.6L528.1 251.6L529.0 252.5L529.9 253.4L530.8 254.3L531.7 255.3L532.6 256.3L533.5 257.2L534.4 258.2L535.3 259.2L536.2 260.1L537.0 261.0L537.9 261.9L538.8 262.8L539.7 263.7L540.6 264.7L541.5 265.6L542.4 266.6L543.3 267.5L544.2 268.4L545.1 269.4L546.0 270.3L546.9 271.2L547.7 272.0L548.8 273.1L549.8 274.1L550.4 274.7M558.8 282.5L559.9 283.3L560.7 284.0M568.2 289.3L569.3 289.9L570.1 290.4M579.1 293.6L580.3 293.3L581.5 292.8L582.6 292.3L583.7 291.7L584.9 291.0L586.0 290.3L587.2 289.6L588.3 288.8L589.5 288.1L590.6 287.3L591.8 286.6L592.9 286.0L594.1 285.3L595.2 284.6L596.4 283.8L597.6 283.1L598.8 282.3L600.0 281.6L601.1 280.8L602.2 280.1L603.3 279.3L604.3 278.5L605.3 277.8L605.9 277.2M614.2 268.5L615.1 267.6L616.0 266.7M623.3 259.9L624.2 259.0L625.1 258.2M633.5 250.2L634.6 249.5L635.8 248.7L636.9 248.1L638.0 247.5L639.0 246.9L640.1 246.4L641.4 245.7L642.6 245.2L643.7 244.6L644.8 244.1L646.0 243.5L647.2 243.0L648.3 242.6L649.5 242.3L650.7 242.1L651.9 242.0L653.2 241.9L654.5 241.9L655.8 241.9L657.1 242.0L658.4 242.2L659.6 242.4M668.3 244.9L669.6 245.4L670.1 245.6M677.6 248.3L678.8 248.8L679.4 249.0M688.1 251.7L689.3 252.1L690.5 252.6L691.8 253.0L693.2 253.5L694.3 253.9L695.5 254.3L696.6 254.7L697.8 255.1L699.0 255.4L700.3 255.8L701.7 256.2L703.1 256.5L704.5 256.8L705.6 257.0L706.8 257.3L708.2 257.5L709.6 257.7L711.0 257.9L712.3 258.1L713.5 258.2L714.1 258.3M722.7 257.8L723.9 257.7L724.5 257.6M731.9 257.2L733.3 257.1L733.8 257.0M742.4 255.9L743.7 255.8L745.0 255.7L746.2 255.7L747.5 255.6L748.9 255.6L750.2 255.5L751.6 255.5L753.0 255.5L754.3 255.5L755.7 255.5L757.1 255.5L758.5 255.5L759.7 255.5L760.9 255.5L762.1 255.5L763.6 255.5L765.0 255.6L766.3 255.6L767.6 255.8L768.8 255.9L769.0 255.9M777.6 258.6L778.8 259.1L779.4 259.4M786.8 262.8L788.0 263.3L788.6 263.6M797.2 267.9L798.3 268.6L799.4 269.3L800.4 270.0L801.5 270.8L802.6 271.6L803.7 272.5L804.9 273.3L806.0 274.1L807.2 275.0L808.4 275.8L809.5 276.7L810.7 277.5L812.0 278.3L813.0 279.0L814.0 279.7L815.1 280.3L816.2 281.0L817.2 281.7L818.3 282.4L819.3 283.1L820.4 283.8L821.4 284.4L822.6 285.3L823.7 286.1L824.2 286.4M832.6 295.1L833.4 295.9L834.4 296.8L834.4 296.8M841.8 303.4L842.8 304.2L843.7 305.1L843.7 305.2M852.1 313.9L853.1 314.7L854.1 315.7L855.1 316.6L856.2 317.6L857.4 318.5L858.3 319.3L859.2 320.1L860.1 320.9L861.1 321.7L862.0 322.5L862.9 323.3L863.9 324.0L865.0 325.0L866.2 326.0L867.1 326.7L868.1 327.5L869.1 328.3L870.0 329.2L871.0 330.0L872.0 330.8L873.0 331.5L874.0 332.3L874.9 333.1L876.1 334.0L877.2 334.8L877.8 335.3M886.4 341.2L887.5 341.8L888.3 342.2M896.0 345.4L897.1 345.8L897.9 346.0M906.9 347.8L908.1 347.9L909.3 348.1L910.6 348.3L912.0 348.5L913.4 348.6L914.8 348.8L916.2 349.0L917.4 349.1L918.6 349.3L919.8 349.5L921.0 349.6L922.2 349.8L923.5 350.0L924.9 350.1L926.2 350.3L927.6 350.4L928.9 350.6L930.2 350.8L931.5 351.0L932.6 351.2M940.9 354.4L942.0 355.0L942.7 355.4M949.8 358.8L950.9 359.3L951.6 359.7M959.7 364.9L960.8 365.6L961.8 366.4L962.9 367.1L964.0 367.9L965.1 368.6L966.3 369.4L967.4 370.2L968.4 370.9L969.4 371.6L970.5 372.4L971.6 373.2L972.8 374.1L973.8 374.8L974.8 375.6L975.8 376.4L976.9 377.2L978.0 378.1L979.1 378.9L980.2 379.8L981.3 380.7L982.5 381.6L983.6 382.4L984.2 382.9M992.2 389.0L993.2 389.7L993.9 390.2M1000.9 395.0L1002.0 395.7L1002.6 396.1M1010.8 400.6L1012.1 401.2L1013.3 401.8L1014.5 402.3L1015.6 402.8L1016.8 403.2L1018.1 403.7L1019.4 404.1L1020.7 404.4L1022.0 404.8L1023.3 405.1L1024.6 405.4L1025.9 405.8L1027.3 406.1L1028.5 406.4L1029.7 406.8L1030.9 407.1L1032.2 407.4L1033.5 407.7L1034.8 408.0L1036.0 408.3L1036.3 408.4M1044.7 411.0L1045.8 411.5L1046.5 411.8M1053.6 415.3L1054.8 415.8L1055.4 416.1M1063.7 420.3L1064.8 420.9L1066.0 421.6L1067.0 422.2L1068.1 422.9L1069.2 423.8L1070.2 424.6L1071.2 425.5L1072.1 426.3L1073.0 427.3L1073.9 428.3L1074.9 429.3L1075.9 430.4L1076.6 431.4L1077.4 432.3L1078.2 433.2L1079.0 434.2L1079.8 435.1L1080.6 436.0L1081.4 437.0L1082.4 438.1L1083.4 439.2L1084.4 440.3L1085.2 441.2L1086.0 442.1L1086.9 443.0L1087.1 443.3M1094.6 451.8L1095.5 452.9L1096.2 453.9M1102.3 462.8L1103.1 463.8L1103.9 464.9M1111.1 474.7L1111.9 475.7L1112.8 477.0L1113.8 478.4L1114.9 479.8L1115.9 481.2L1116.6 482.2L1117.4 483.2L1118.1 484.2L1118.8 485.2L1119.6 486.2L1120.3 487.2L1121.1 488.2L1121.8 489.2L1122.6 490.3L1123.3 491.3L1124.1 492.3L1124.8 493.2L1125.5 494.2L1126.2 495.2L1127.3 496.6L1128.3 498.0L1129.4 499.4L1130.5 500.8L1131.2 501.8L1132.0 502.7L1132.7 503.7L1133.1 504.2M1140.3 513.7L1141.4 515.1L1141.9 515.8M1148.2 523.8L1149.1 524.9L1149.8 525.7M1157.6 533.3L1158.5 534.2L1159.4 535.1L1160.4 536.0L1161.4 537.0L1162.5 538.0L1163.6 539.0L1164.6 540.1L1165.5 540.9L1166.4 541.7L1167.3 542.6L1168.2 543.4L1169.1 544.2L1170.0 545.0L1170.9 545.8L1171.9 546.6L1172.8 547.5L1173.8 548.4L1174.8 549.2L1175.8 550.1L1176.9 550.9L1177.9 551.8L1178.9 552.6L1179.9 553.4L1180.8 554.2L1182.0 555.1L1183.1 556.0L1183.1 556.0M1191.8 561.3L1192.9 561.8L1193.7 562.1M1201.5 564.1L1202.7 564.4L1203.4 564.6M1212.4 566.5L1213.6 566.6L1214.9 566.6L1216.3 566.5L1217.7 566.5L1218.9 566.4L1220.2 566.4L1221.4 566.3L1222.6 566.2L1223.9 566.1L1225.1 566.1L1226.5 566.0L1227.9 565.9L1229.1 565.8L1230.3 565.7L1231.5 565.7L1232.8 565.6L1234.0 565.5L1235.4 565.4L1236.7 565.3L1238.0 565.2L1239.2 565.1M1248.0 564.0L1249.2 563.9L1249.9 563.9" fill="none" stroke="#1a1a1a" stroke-width="2.8" stroke-linejoin="round"/>
<path d="M255.2,602.6H422.2" stroke="#1a1a1a" stroke-width="2.8"/>
<path d="M255.10,649.8h2.6M264.43,649.8h2.6M273.76,649.8h2.6M283.09,649.8h2.6M292.42,649.8h2.6M301.75,649.8h2.6M311.08,649.8h2.6M320.41,649.8h2.6M329.74,649.8h2.6M339.07,649.8h2.6M348.40,649.8h2.6M357.73,649.8h2.6M367.06,649.8h2.6M376.39,649.8h2.6M385.72,649.8h2.6M395.05,649.8h2.6M404.38,649.8h2.6M413.71,649.8h2.6" stroke="#444" stroke-width="2.7"/>
<path d="M255.2,696.2H422.2" stroke="#1a1a1a" stroke-width="2.8" stroke-dasharray="22 7.6"/>
<path d="M255.2,743.6H422.2" stroke="#1a1a1a" stroke-width="2.8" stroke-dasharray="29 7 2 7 2 8.2"/>
<text transform="translate(461.5,616.6) scale(1,1.04)" class="lg">Pot</text>
<text transform="translate(461.5,663.5) scale(1,1.04)" class="lg">Air</text>
<text transform="translate(461.5,709.8) scale(1,1.04)" class="lg">Nutrient solution</text>
<text transform="translate(461.5,755.1) scale(1,1.04)" class="lg">Soil</text>
</svg>
</body></html>
